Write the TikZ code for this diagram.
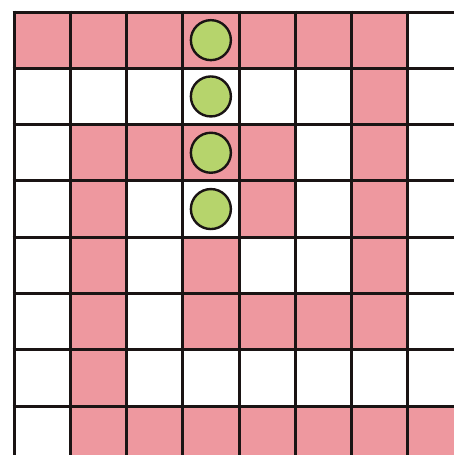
\documentclass[tikz,border=0pt]{standalone}
\usetikzlibrary{calc}
\definecolor{cellpink}{HTML}{EE989F}
\definecolor{dotgreen}{HTML}{B6D46C}
\definecolor{gridline}{HTML}{1A1414}
\tikzset{
  pinkcell/.style={fill=cellpink, draw=none},
  gridstroke/.style={draw=gridline, line width=3pt},
  dot/.style={circle, fill=dotgreen, draw=gridline, line width=2.4pt, minimum size=40pt, inner sep=0pt}
}
\begin{document}
\begin{tikzpicture}[x=1pt,y=-1pt]
\useasboundingbox (0,0) rectangle (454,455);
\fill[white] (0,0) rectangle (454,455);
\def\cw{56.25}
\def\ch{56.3}
\def\ox{14}
\def\oy{12}
% pink cells: row/col lists (1-based)
\foreach \r/\c in {1/1,1/2,1/3,1/4,1/5,1/6,1/7,
                   2/7,
                   3/2,3/3,3/4,3/5,3/7,
                   4/2,4/5,4/7,
                   5/2,5/4,5/7,
                   6/2,6/4,6/5,6/6,6/7,
                   7/2,
                   8/2,8/3,8/4,8/5,8/6,8/7,8/8}{
  \fill[pinkcell] ({\ox+\cw*(\c-1)},{\oy+\ch*(\r-1)}) rectangle ({min(\ox+\cw*\c,454)},{min(\oy+\ch*\r,455)});
}
% grid lines
\foreach \i in {0,...,7}{
  \draw[gridstroke] ({\ox+\cw*\i},\oy-1.5) -- ({\ox+\cw*\i},455);
  \draw[gridstroke] (\ox-1.5,{\oy+\ch*\i}) -- (454,{\oy+\ch*\i});
}
% green dots
\foreach \r in {1,...,4}{
  \node[dot] (dot\r) at ({\ox+\cw*3.5},{\oy+\ch*(\r-0.5)}) {};
}
\end{tikzpicture}
\end{document}
